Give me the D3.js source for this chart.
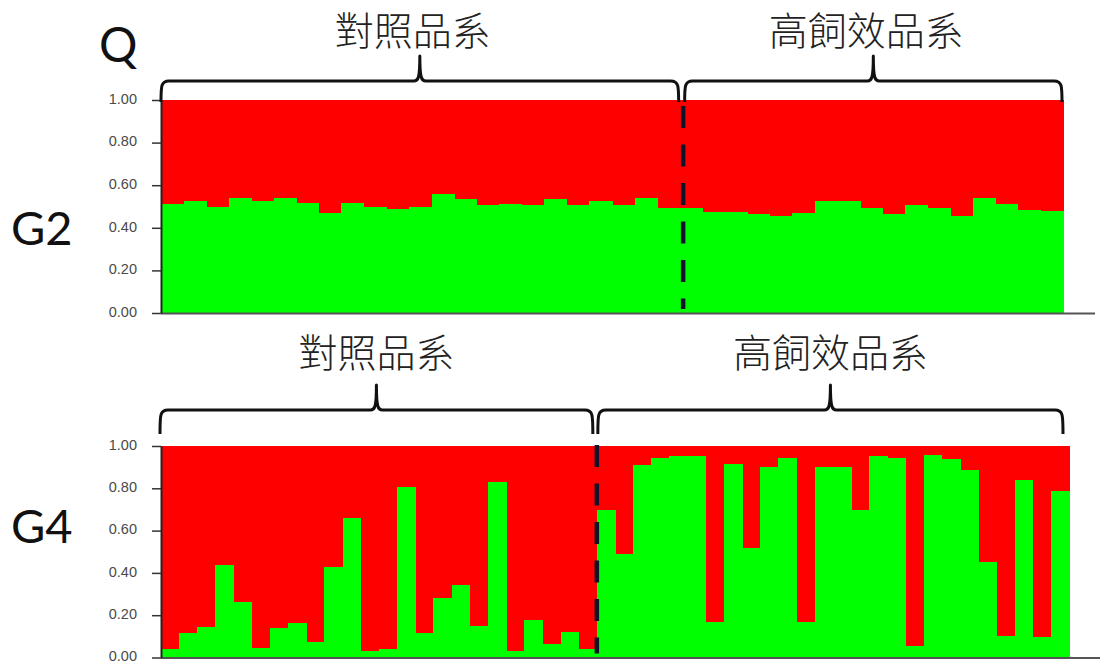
<!DOCTYPE html>
<html>
<head>
<meta charset="utf-8">
<script src="https://cdn.jsdelivr.net/npm/d3@7"></script>
<style>
  body { margin: 0; background: #fff; }
  svg { display: block; }
</style>
</head>
<body>
<svg id="chart" width="1100" height="664"></svg>
<script>
// Group names and axis ticks
const groupLabels = ["對照品系", "高飼效品系"];
const tickValues = [0, 0.2, 0.4, 0.6, 0.8, 1.0];
const panelNames = ["G2", "G4"];
const statLabel = "Q";

// Membership coefficient (Q) of the green cluster for each individual; red = 1 - Q
const g2Control = [0.514, 0.525, 0.500, 0.540, 0.525, 0.540, 0.517, 0.470, 0.517, 0.498,
                   0.490, 0.498, 0.560, 0.533, 0.506, 0.514, 0.508, 0.533, 0.508, 0.525,
                   0.508, 0.540, 0.495];
const g2HighFE  = [0.492, 0.473, 0.476, 0.465, 0.457, 0.471, 0.525, 0.525, 0.492, 0.465,
                   0.508, 0.492, 0.457, 0.538, 0.514, 0.484, 0.478];
const g4Control = [0.038, 0.115, 0.144, 0.437, 0.264, 0.044, 0.138, 0.165, 0.073, 0.426,
                   0.658, 0.030, 0.038, 0.807, 0.115, 0.280, 0.343, 0.150, 0.828, 0.030,
                   0.179, 0.065, 0.122, 0.038];
const g4HighFE  = [0.699, 0.490, 0.908, 0.941, 0.951, 0.951, 0.166, 0.916, 0.516, 0.902,
                   0.941, 0.166, 0.900, 0.900, 0.696, 0.951, 0.941, 0.054, 0.959, 0.938,
                   0.888, 0.453, 0.104, 0.837, 0.097, 0.786];

const RED = "#ff0000", GREEN = "#00ff00";
const svg = d3.select("#chart");

const panels = [
  { name: panelNames[0], control: g2Control, highFE: g2HighFE,
    left: 161, right: 1063, top: 100, bottom: 313, baseEnd: 1095,
    nameY: 245, braceLine: 81, braceEnd: 102, braceTip: 56, labelY: 45,
    spans: [[0, -1], [5, -1]], dashShift: 3.5, dashStart: 106, labelShift: -7 },
  { name: panelNames[1], control: g4Control, highFE: g4HighFE,
    left: 161, right: 1069, top: 446, bottom: 657.5, baseEnd: 1100,
    nameY: 543, braceLine: 410, braceEnd: 434, braceTip: 385, labelY: 367,
    spans: [[-1, -4], [1, -6]], dashShift: 0, dashStart: 445, labelShift: 0 }
];

function bracePath(x0, x1, yLine, yEnd, tipY) {
  const r = 8, tx = (x0 + x1) / 2, tw = 6;
  return `M${x0},${yEnd} C${x0},${yLine + 5} ${x0},${yLine} ${x0 + r},${yLine}` +
         ` L${tx - tw},${yLine} C${tx - 1.5},${yLine} ${tx},${yLine - 3} ${tx},${tipY}` +
         ` C${tx},${yLine - 3} ${tx + 1.5},${yLine} ${tx + tw},${yLine}` +
         ` L${x1 - r},${yLine} C${x1},${yLine} ${x1},${yLine + 5} ${x1},${yEnd}`;
}

panels.forEach(p => {
  const values = p.control.concat(p.highFE);
  const x = d3.scaleBand().domain(d3.range(values.length)).range([p.left, p.right]).padding(0);
  const y = d3.scaleLinear().domain([0, 1]).range([p.bottom, p.top]);
  const g = svg.append("g");

  // stacked bars: green (Q) at the bottom, red (1 - Q) above
  const bars = g.append("g").attr("shape-rendering", "crispEdges");
  bars.selectAll("rect.red").data(values).join("rect")
    .attr("class", "red")
    .attr("x", (d, i) => x(i)).attr("width", x.bandwidth() + 0.5)
    .attr("y", y(1)).attr("height", d => y(d) - y(1))
    .attr("fill", RED);
  bars.selectAll("rect.green").data(values).join("rect")
    .attr("class", "green")
    .attr("x", (d, i) => x(i)).attr("width", x.bandwidth() + 0.5)
    .attr("y", d => y(d)).attr("height", d => y(0) - y(d))
    .attr("fill", GREEN);

  // baseline
  g.append("line")
    .attr("x1", p.left).attr("x2", p.baseEnd)
    .attr("y1", p.bottom + 0.5).attr("y2", p.bottom + 0.5)
    .attr("stroke", "#555").attr("stroke-width", 2);

  // y axis
  const axis = g.append("g")
    .attr("transform", `translate(${p.left},0)`)
    .call(d3.axisLeft(y).tickValues(tickValues).tickFormat(d3.format(".2f"))
      .tickSizeInner(9).tickSizeOuter(0).tickPadding(15));
  axis.select(".domain").attr("stroke", "#222").attr("stroke-width", 2);
  axis.selectAll(".tick line").attr("stroke", "#333").attr("stroke-width", 1.5);
  axis.selectAll(".tick text")
    .attr("font-family", "'Liberation Sans', Arial, sans-serif")
    .attr("font-size", 14.5).attr("dy", "0.22em").attr("fill", "#4a4a4a");

  // divider between the two groups
  const xb = x(p.control.length);
  g.append("line")
    .attr("x1", xb + p.dashShift).attr("x2", xb + p.dashShift)
    .attr("y1", p.dashStart).attr("y2", p.bottom - 4)
    .attr("stroke", "#12122a").attr("stroke-width", 4.5)
    .attr("stroke-dasharray", "22,16.5");

  // braces with group names
  const spans = [
    [p.left + p.spans[0][0], xb + p.spans[0][1]],
    [xb + p.spans[1][0], p.right + p.spans[1][1]]
  ];
  spans.forEach((s, k) => {
    g.append("path")
      .attr("d", bracePath(s[0], s[1], p.braceLine, p.braceEnd, p.braceTip))
      .attr("fill", "none").attr("stroke", "#111").attr("stroke-width", 3)
      .attr("stroke-linejoin", "round");
    g.append("text")
      .attr("x", (s[0] + s[1]) / 2 + p.labelShift).attr("y", p.labelY)
      .attr("text-anchor", "middle")
      .attr("font-family", "'Noto Sans CJK TC', 'Noto Sans CJK SC', sans-serif")
      .attr("font-weight", 300)
      .attr("font-size", 39).attr("fill", "#222")
      .text(groupLabels[k]);
  });

  // panel name
  g.append("text")
    .attr("x", 11).attr("y", p.nameY)
    .attr("font-family", "Lato, 'Open Sans', sans-serif")
    .attr("font-size", 47).attr("fill", "#111")
    .text(p.name);
});

// statistic label above the first panel
svg.append("text")
  .attr("x", 99).attr("y", 62)
  .attr("font-family", "Lato, 'Open Sans', sans-serif")
  .attr("font-size", 48).attr("fill", "#111")
  .text(statLabel);
</script>
</body>
</html>
